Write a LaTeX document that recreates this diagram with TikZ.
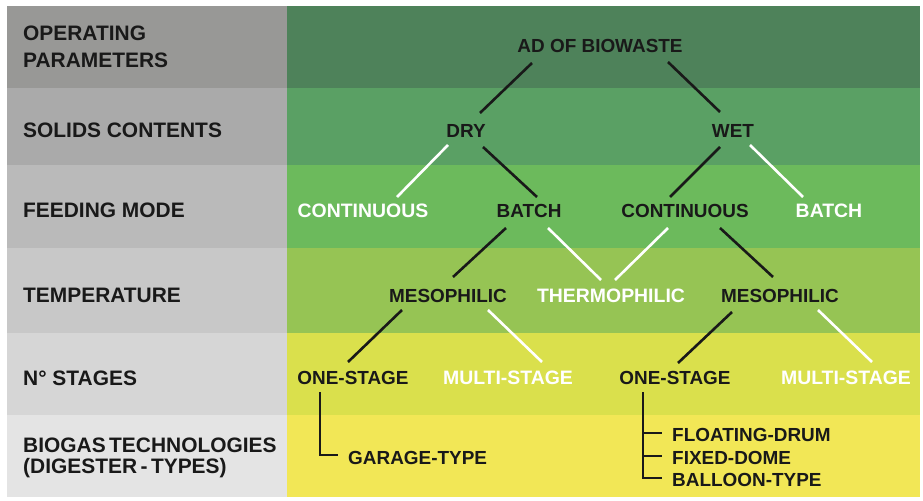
\documentclass[tikz,border=0pt]{standalone}
\usepackage{fontspec}
\setmainfont{Liberation Sans}
\definecolor{gA}{RGB}{78,130,90}
\definecolor{gB}{RGB}{90,160,100}
\definecolor{gC}{RGB}{108,186,92}
\definecolor{gD}{RGB}{150,196,84}
\definecolor{gE}{RGB}{218,224,76}
\definecolor{gF}{RGB}{242,231,86}
\definecolor{sA}{RGB}{152,152,150}
\definecolor{sB}{RGB}{170,170,170}
\definecolor{sC}{RGB}{186,186,186}
\definecolor{sD}{RGB}{200,200,200}
\definecolor{sE}{RGB}{214,214,214}
\definecolor{sF}{RGB}{228,228,228}
\definecolor{ink}{RGB}{25,25,25}
\begin{document}
\begin{tikzpicture}[x=1bp,y=-1bp,
  rowlabel/.style={anchor=west,inner sep=0pt,font=\fontsize{21}{23}\selectfont\bfseries,text=ink,align=left},
  tn/.style={inner sep=0pt,font=\fontsize{19}{21}\selectfont\bfseries,text=ink},
  wn/.style={inner sep=0pt,font=\fontsize{19.5}{21}\selectfont\bfseries,text=white},
  bl/.style={draw=ink,line width=2.6bp},
  wl/.style={draw=white,line width=2.6bp},
  bracket/.style={draw=ink,line width=2.6bp}]
\useasboundingbox (0,0) rectangle (923,501);
\fill[white] (0,0) rectangle (923,501);
% gray column
\fill[sA] (7,6) rectangle (287,88);
\fill[sB] (7,88) rectangle (287,165);
\fill[sC] (7,165) rectangle (287,248);
\fill[sD] (7,248) rectangle (287,333);
\fill[sE] (7,333) rectangle (287,415);
\fill[sF] (7,415) rectangle (287,497);
% green bands
\fill[gA] (287,6) rectangle (920,88);
\fill[gB] (287,88) rectangle (920,165);
\fill[gC] (287,165) rectangle (920,248);
\fill[gD] (287,248) rectangle (920,333);
\fill[gE] (287,333) rectangle (920,415);
\fill[gF] (287,415) rectangle (920,497);
% row labels
\node[rowlabel] (r1a) at (23,33) {OPERATING};
\node[rowlabel] (r1b) at (23,60) {PARAMETERS};
\node[rowlabel] (r2) at (23,130) {SOLIDS CONTENTS};
\node[rowlabel] (r3) at (23,210) {FEEDING MODE};
\node[rowlabel] (r4) at (23,295) {TEMPERATURE};
\node[rowlabel] (r5) at (23,378) {N\textdegree{} STAGES};
\node[rowlabel] (r6a) at (23,445) {BIOGAS\,TECHNOLOGIES};
\node[rowlabel] (r6b) at (23,468) {(DIGESTER\,-\,TYPES)};
% tree nodes
\node[tn] (ad) at (600,46) {AD OF BIOWASTE};
\node[tn] (dry) at (466,131) {DRY};
\node[tn] (wet) at (733,131) {WET};
\node[wn] (contw) at (363,211) {CONTINUOUS};
\node[tn] (batchb) at (529,211) {BATCH};
\node[tn] (contb) at (685,211) {CONTINUOUS};
\node[wn] (batchw) at (829,211) {BATCH};
\node[tn] (mesoL) at (448,296) {MESOPHILIC};
\node[wn] (thermo) at (611,296) {THERMOPHILIC};
\node[tn] (mesoR) at (780,296) {MESOPHILIC};
\node[tn] (oneL) at (353,378) {ONE-STAGE};
\node[wn] (multiL) at (508,378) {MULTI-STAGE};
\node[tn] (oneR) at (675,378) {ONE-STAGE};
\node[wn] (multiR) at (846,378) {MULTI-STAGE};
\node[tn,anchor=west] (garage) at (348,458) {GARAGE-TYPE};
\node[tn,anchor=west] (float) at (672,435) {FLOATING-DRUM};
\node[tn,anchor=west] (fixed) at (672,458) {FIXED-DOME};
\node[tn,anchor=west] (balloon) at (672,480) {BALLOON-TYPE};
% connector end points
\coordinate (a1) at (532,63); \coordinate (a2) at (480,113);
\coordinate (b1) at (668,62); \coordinate (b2) at (720,112);
\coordinate (c1) at (448,145); \coordinate (c2) at (397,197);
\coordinate (d1) at (483,147); \coordinate (d2) at (537,197);
\coordinate (e1) at (720,147); \coordinate (e2) at (670,197);
\coordinate (f1) at (750,145); \coordinate (f2) at (803,197);
\coordinate (g1) at (506,228); \coordinate (g2) at (453,277);
\coordinate (h1) at (548,228); \coordinate (h2) at (601,280);
\coordinate (i1) at (668,228); \coordinate (i2) at (615,280);
\coordinate (j1) at (720,228); \coordinate (j2) at (773,277);
\coordinate (k1) at (402,310); \coordinate (k2) at (348,362);
\coordinate (l1) at (488,310); \coordinate (l2) at (542,362);
\coordinate (m1) at (732,312); \coordinate (m2) at (678,363);
\coordinate (n1) at (818,310); \coordinate (n2) at (872,362);
\draw[bl] (a1) -- (a2);
\draw[bl] (b1) -- (b2);
\draw[wl] (c1) -- (c2);
\draw[bl] (d1) -- (d2);
\draw[bl] (e1) -- (e2);
\draw[wl] (f1) -- (f2);
\draw[bl] (g1) -- (g2);
\draw[wl] (h1) -- (h2);
\draw[wl] (i1) -- (i2);
\draw[bl] (j1) -- (j2);
\draw[bl] (k1) -- (k2);
\draw[wl] (l1) -- (l2);
\draw[bl] (m1) -- (m2);
\draw[wl] (n1) -- (n2);
% brackets
\coordinate (p1) at (320,392); \coordinate (p2) at (320,455); \coordinate (p3) at (338,455);
\draw[bracket] (p1) -- (p2) -- (p3);
\coordinate (q1) at (643,392); \coordinate (q2) at (643,478); \coordinate (q3) at (662,478);
\coordinate (q4) at (643,433); \coordinate (q5) at (662,433);
\coordinate (q6) at (643,456); \coordinate (q7) at (662,456);
\draw[bracket] (q1) -- (q2) -- (q3);
\draw[bracket] (q4) -- (q5);
\draw[bracket] (q6) -- (q7);
\end{tikzpicture}
\end{document}
